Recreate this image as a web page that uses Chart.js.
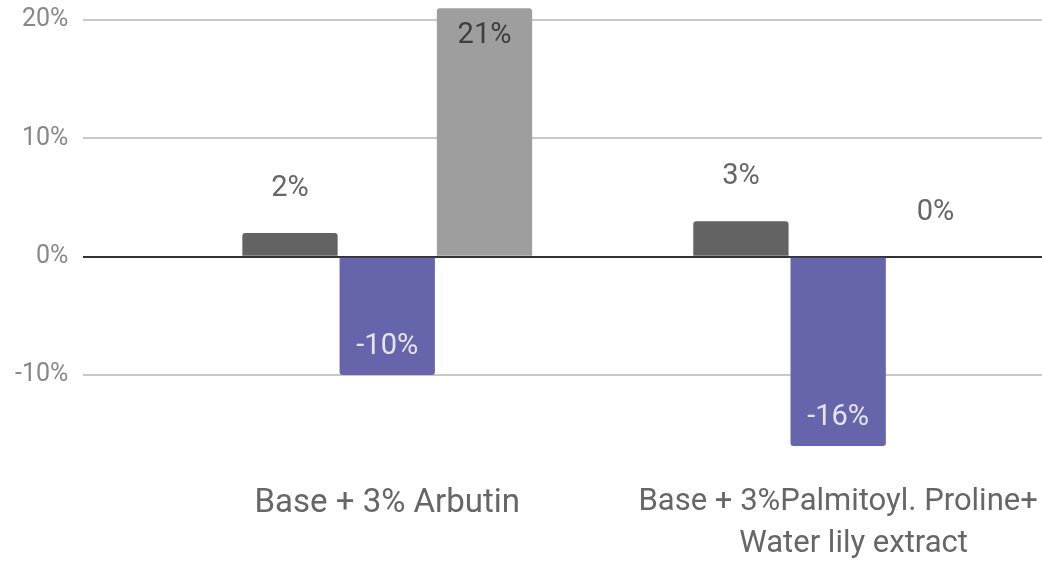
<!DOCTYPE html>
<html lang="en">
<head>
<meta charset="UTF-8">
<title>Chart</title>
<script src="https://cdn.jsdelivr.net/npm/chart.js"></script>
<style>
  html, body { margin: 0; padding: 0; background: #fff; }
  #contenedor { width: 1042px; height: 565px; }
</style>
</head>
<body>
<div id="contenedor"><canvas id="micanvas"></canvas></div>
<script>
// ===============================
// DATOS
// ===============================

const categorias = [
  "Base + 3% Arbutin",
  ["Base + 3%Palmitoyl. Proline+", "    Water lily extract"]
];

const nombresSeries = ["Serie A", "Serie B", "Serie C"];
const valoresOscuro = [2, 3];
const valoresMorado = [-10, -16];
const valoresClaro = [21, 0];

const ticksY = [-10, 0, 10, 20];

// ===============================
// COLORES
// ===============================

const coloresBarras = ["#636363", "#6665ab", "#9e9e9e"];
const coloresDentro = ["#f0f0f0", "#e4e4f4", "#3e3e3e"];

function aPuntos(valores) {
  return valores.map(function (valor, i) {
    return { x: i, y: valor };
  });
}

// ===============================
// ETIQUETAS DE VALOR
// ===============================

const etiquetasValor = {
  id: "etiquetasValor",
  afterDatasetsDraw(chart) {
    const ctx = chart.ctx;
    ctx.save();
    ctx.font = "29px Roboto";
    ctx.textAlign = "center";
    ctx.textBaseline = "middle";

    chart.data.datasets.forEach(function (serie, i) {
      chart.getDatasetMeta(i).data.forEach(function (barra, j) {
        const valor = serie.data[j].y;
        const alto = Math.abs(barra.base - barra.y);
        const dir = valor < 0 ? -1 : 1;
        let y;
        if (alto > 60) {
          y = barra.y + dir * 28;
          ctx.fillStyle = coloresDentro[i];
        } else {
          y = barra.y - dir * 44;
          ctx.fillStyle = "#666666";
        }
        ctx.fillText(valor + "%", barra.x, y);
      });
    });

    ctx.restore();
  }
};

// ===============================
// GRÁFICA
// ===============================

const series = [valoresOscuro, valoresMorado, valoresClaro];

const ctx = document.getElementById("micanvas").getContext("2d");

new Chart(ctx, {
  type: "bar",
  data: {
    datasets: series.map(function (valores, i) {
      return {
        label: nombresSeries[i],
        data: aPuntos(valores),
        backgroundColor: coloresBarras[i],
        borderRadius: 3,
        barPercentage: 0.98,
        categoryPercentage: 0.647,
        clip: false
      };
    })
  },
  options: {
    responsive: true,
    maintainAspectRatio: false,
    animation: false,
    layout: { padding: { left: 12 } },
    plugins: {
      legend: { display: false },
      tooltip: { enabled: false }
    },
    scales: {
      x: {
        type: "linear",
        offset: false,
        min: -0.674,
        max: 1.452,
        grid: { display: false, offset: false },
        border: { display: false },
        ticks: {
          stepSize: 1,
          includeBounds: false,
          autoSkip: false,
          maxRotation: 0,
          padding: 0,
          color: "#666666",
          font: function (c) {
            return { family: "Roboto", size: c.index === 0 ? 33 : 31, lineHeight: 1.35 };
          },
          callback: function (valor) {
            return categorias[valor];
          }
        }
      },
      y: {
        min: -18.3,
        max: 20.17,
        border: { display: false },
        afterBuildTicks: function (escala) {
          escala.ticks = ticksY.map(function (v) { return { value: v }; });
        },
        grid: {
          color: function (c) {
            return c.tick && c.tick.value === 0 ? "#333333" : "#c9c9c9";
          },
          lineWidth: 2,
          tickLength: 12,
          tickColor: "transparent"
        },
        ticks: {
          padding: 3,
          color: "#888888",
          font: { family: "Roboto", size: 25 },
          callback: function (valor) {
            return valor + "%";
          }
        }
      }
    }
  },
  plugins: [etiquetasValor]
});
</script>
</body>
</html>
